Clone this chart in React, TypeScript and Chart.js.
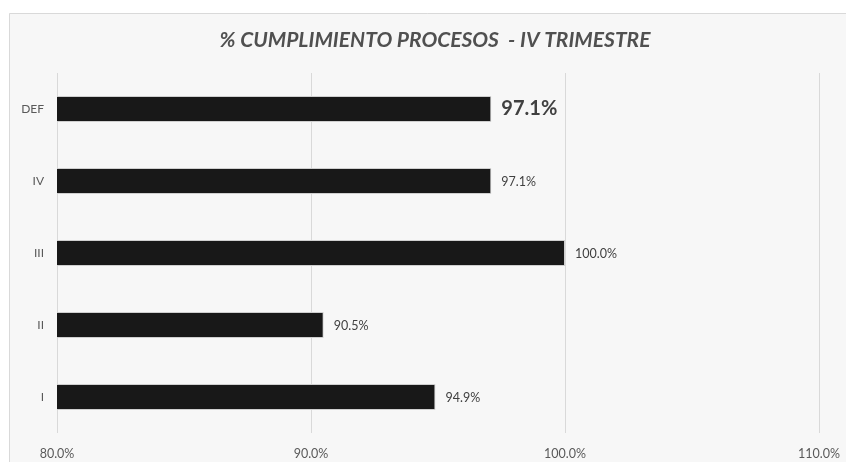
import React, { useEffect, useRef } from "react";
import { Chart, registerables } from "chart.js";

Chart.register(...registerables);

const categories = ["DEF", "IV", "III", "II", "I"];
const values = [97.1, 97.1, 100.0, 90.5, 94.9];
const xTicks = [80, 90, 100, 110];
const titleText = "% CUMPLIMIENTO PROCESOS  - IV TRIMESTRE";

const FONT = "Lato, 'Open Sans', sans-serif";

const bgPlugin = {
  id: "bgPlugin",
  beforeDraw(chart: any) {
    const { ctx, width, height } = chart;
    ctx.save();
    ctx.fillStyle = "#ffffff";
    ctx.fillRect(0, 0, width, height);
    ctx.fillStyle = "#f7f7f7";
    ctx.fillRect(9, 13, width - 9, height - 13);
    ctx.strokeStyle = "#d9d9d9";
    ctx.lineWidth = 1;
    ctx.beginPath();
    ctx.moveTo(9.5, height);
    ctx.lineTo(9.5, 13.5);
    ctx.lineTo(width, 13.5);
    ctx.stroke();
    ctx.font = `italic bold 21px ${FONT}`;
    ctx.fillStyle = "#505050";
    ctx.textAlign = "center";
    ctx.textBaseline = "middle";
    ctx.fillText(titleText, 435, 40);
    ctx.restore();
  },
};

const labelPlugin = {
  id: "labelPlugin",
  afterDatasetsDraw(chart: any) {
    const { ctx } = chart;
    const meta = chart.getDatasetMeta(0);
    ctx.save();
    ctx.fillStyle = "#404040";
    ctx.textAlign = "left";
    ctx.textBaseline = "middle";
    meta.data.forEach((bar: any, i: number) => {
      const big = categories[i] === "DEF";
      ctx.font = big ? `bold 20px ${FONT}` : `12.5px ${FONT}`;
      ctx.fillText(values[i].toFixed(1) + "%", bar.x + 10, bar.y + (big ? 0 : 1));
    });
    ctx.restore();
  },
};

export default function App() {
  const ref = useRef<HTMLCanvasElement>(null);
  useEffect(() => {
    if (!ref.current) return;
    const chart = new Chart(ref.current, {
      type: "bar",
      data: {
        labels: categories,
        datasets: [
          {
            data: values,
            backgroundColor: "#181818",
            borderColor: "#cfcfcf",
            borderWidth: 1,
            barPercentage: 0.36,
            categoryPercentage: 1,
          },
        ],
      },
      options: {
        indexAxis: "y",
        responsive: false,
        animation: false,
        devicePixelRatio: 1,
        layout: { padding: { left: 0, right: 27, top: 73, bottom: 0 } },
        plugins: {
          legend: { display: false },
          title: { display: false },
          tooltip: { enabled: false },
        },
        scales: {
          x: {
            min: 80,
            max: 110,
            afterBuildTicks(axis: any) {
              axis.ticks = xTicks.map((v) => ({ value: v }));
            },
            afterFit(axis: any) {
              axis.height = 29;
              axis.paddingLeft = 0;
              axis.paddingRight = 0;
            },
            grid: { color: "#d9d9d9", drawTicks: false, lineWidth: 1 },
            border: { display: false },
            ticks: {
              padding: 13,
              color: "#595959",
              font: { family: FONT, size: 12.5 },
              callback: (v: any) => Number(v).toFixed(1) + "%",
              maxRotation: 0,
            },
          },
          y: {
            afterFit(axis: any) {
              axis.width = 57;
              axis.paddingTop = 0;
              axis.paddingBottom = 0;
            },
            grid: { display: false, drawTicks: false },
            border: { display: false },
            ticks: {
              padding: 13,
              color: "#595959",
              font: { family: FONT, size: 12 },
            },
          },
        },
      },
      plugins: [bgPlugin, labelPlugin],
    });
    return () => chart.destroy();
  }, []);
  return (
    <div style={{ position: "absolute", left: 0, top: 0, width: 846, height: 462 }}>
      <canvas ref={ref} width={846} height={462} />
    </div>
  );
}
